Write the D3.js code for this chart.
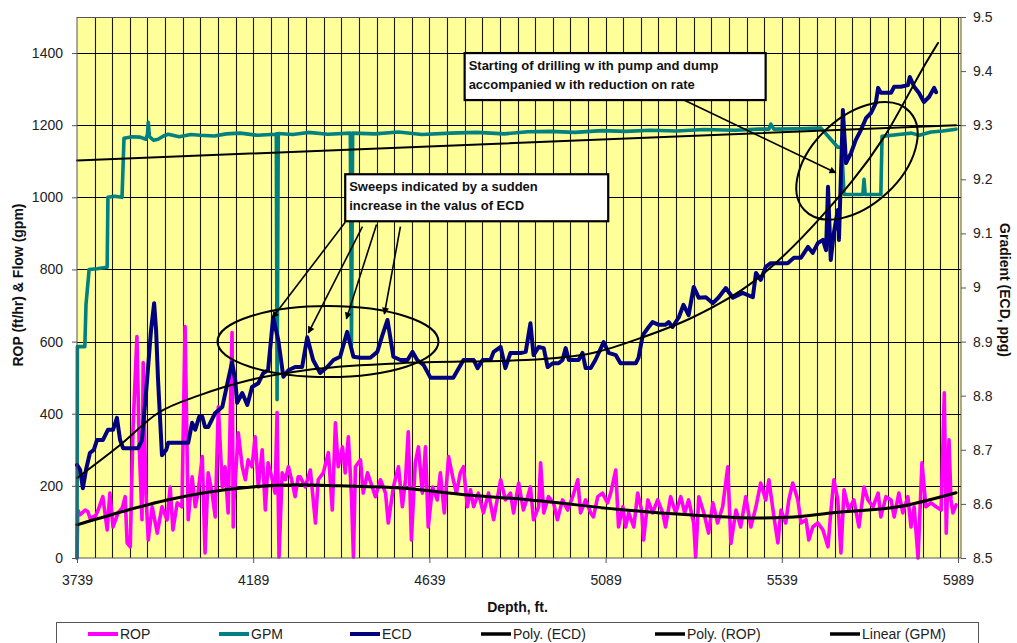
<!DOCTYPE html>
<html>
<head>
<meta charset="utf-8">
<script src="https://cdn.jsdelivr.net/npm/d3@7"></script>
<style>
  html, body { margin: 0; padding: 0; background: #ffffff; }
  svg { display: block; font-family: "Liberation Sans", Arial, sans-serif; }
</style>
</head>
<body>
<svg id="chart" width="1017" height="643"></svg>
<script>
// ---- Data: depth (ft) paired with readings ----
const depthTicks = [3739, 4189, 4639, 5089, 5539, 5989];
const flowTicks = [0, 200, 400, 600, 800, 1000, 1200, 1400];
const ecdTicks = [8.5, 8.6, 8.7, 8.8, 8.9, 9.0, 9.1, 9.2, 9.3, 9.4, 9.5];

// Rate of penetration, ft/hr
const ropSeries = [
  [3739,0],[3741,133],[3747,120],[3752,125],[3760,133],[3767,128],[3773,108],[3780,114],[3787,118],[3793,133],
  [3805,170],[3816,78],[3823,180],[3831,86],[3844,125],[3855,140],[3862,170],[3867,42],[3875,31],[3882,356],
  [3892,614],[3898,308],[3905,106],[3908,542],[3915,180],[3921,50],[3931,142],[3944,69],[3956,142],[3969,106],
  [3977,197],[3984,78],[3995,153],[4007,142],[4015,642],[4023,106],[4033,225],[4041,142],[4048,180],[4059,281],
  [4066,14],[4074,236],[4084,180],[4092,114],[4100,419],[4110,197],[4117,253],[4125,125],[4135,625],[4138,86],
  [4140,161],[4151,347],[4161,253],[4169,217],[4176,272],[4186,253],[4194,336],[4202,197],[4212,300],[4220,133],
  [4227,264],[4238,217],[4245,180],[4250,403],[4255,3],[4263,236],[4271,217],[4279,253],[4289,208],[4296,170],
  [4304,225],[4309,225],[4322,197],[4335,244],[4348,97],[4355,217],[4368,236],[4381,292],[4391,133],[4399,375],
  [4406,253],[4417,308],[4424,236],[4432,336],[4440,170],[4445,3],[4450,253],[4463,272],[4470,180],[4481,236],
  [4493,197],[4501,170],[4514,217],[4527,180],[4534,97],[4547,197],[4560,253],[4570,142],[4578,217],[4585,350],
  [4593,50],[4603,264],[4611,308],[4621,180],[4629,308],[4636,86],[4647,197],[4659,161],[4667,236],[4677,125],
  [4688,281],[4700,217],[4708,180],[4718,236],[4726,253],[4736,142],[4744,189],[4752,142],[4764,180],[4777,125],
  [4790,180],[4803,106],[4821,217],[4833,161],[4846,180],[4854,125],[4867,208],[4879,133],[4890,170],[4897,197],
  [4905,106],[4918,142],[4923,264],[4931,125],[4943,170],[4956,153],[4966,106],[4979,161],[4992,133],[5005,170],
  [5018,217],[5025,125],[5038,161],[5051,125],[5058,114],[5069,170],[5081,180],[5094,153],[5102,180],[5115,244],
  [5122,86],[5133,142],[5140,86],[5148,125],[5161,86],[5171,180],[5181,133],[5186,50],[5197,161],[5209,125],
  [5222,161],[5235,125],[5242,86],[5255,170],[5268,125],[5281,170],[5291,125],[5301,161],[5314,97],[5319,3],
  [5327,170],[5340,125],[5352,69],[5363,153],[5375,97],[5388,142],[5401,253],[5409,40],[5422,133],[5434,86],
  [5447,170],[5460,86],[5473,142],[5485,208],[5498,161],[5506,217],[5519,114],[5529,42],[5537,133],[5549,97],
  [5557,161],[5567,208],[5580,161],[5588,97],[5601,106],[5608,50],[5618,86],[5631,97],[5644,78],[5657,31],
  [5664,125],[5672,217],[5682,161],[5690,14],[5698,189],[5710,133],[5723,161],[5736,86],[5749,197],[5759,161],
  [5772,142],[5785,180],[5792,114],[5805,170],[5818,161],[5826,114],[5838,180],[5848,125],[5861,170],[5869,86],
  [5877,142],[5887,0],[5897,264],[5907,142],[5920,153],[5933,142],[5946,133],[5954,458],[5959,69],[5966,328],
  [5971,161],[5976,125],[5984,147]
];

// Pump flow rate, gpm
const gpmSeries = [
  [3739,0],[3740,586],[3759,586],[3762,703],[3770,800],[3790,802],[3816,806],[3818,1000],[3835,1003],[3854,1000],
  [3859,1164],[3880,1168],[3900,1167],[3915,1161],[3919,1175],[3921,1208],[3924,1168],[3935,1158],[3946,1161],
  [3960,1170],[3972,1175],[4000,1168],[4030,1174],[4053,1172],[4090,1170],[4120,1176],[4156,1178],[4200,1172],
  [4245,1175],[4248,1176],[4250,439],[4253,1177],[4290,1174],[4330,1180],[4380,1175],[4437,1178],[4440,590],
  [4443,1178],[4500,1176],[4560,1181],[4620,1174],[4693,1178],[4760,1180],[4830,1176],[4890,1182],[4948,1183],
  [5010,1180],[5080,1185],[5140,1183],[5204,1186],[5270,1184],[5340,1188],[5420,1186],[5480,1189],[5506,1189],
  [5511,1203],[5519,1189],[5580,1190],[5639,1192],[5664,1161],[5682,1139],[5692,1139],[5698,1008],[5746,1008],
  [5749,1050],[5752,1008],[5792,1008],[5795,1169],[5843,1175],[5870,1178],[5890,1172],[5920,1181],[5950,1184],
  [5984,1189]
];

// Equivalent circulating density, ppg
const ecdSeries = [
  [3739,8.672],[3747,8.663],[3754,8.629],[3762,8.663],[3772,8.694],[3782,8.700],[3790,8.718],[3805,8.718],
  [3818,8.737],[3831,8.737],[3841,8.759],[3849,8.718],[3857,8.703],[3895,8.703],[3905,8.718],[3918,8.829],
  [3928,8.921],[3936,8.971],[3941,8.921],[3946,8.829],[3956,8.690],[3967,8.700],[3972,8.713],[4023,8.713],
  [4033,8.750],[4041,8.737],[4051,8.761],[4059,8.761],[4066,8.742],[4074,8.742],[4092,8.768],[4110,8.779],
  [4125,8.829],[4135,8.862],[4143,8.829],[4148,8.787],[4161,8.805],[4174,8.783],[4186,8.816],[4202,8.823],
  [4215,8.842],[4227,8.847],[4240,8.945],[4253,8.903],[4266,8.835],[4279,8.847],[4296,8.853],[4314,8.853],
  [4327,8.908],[4342,8.866],[4360,8.842],[4378,8.853],[4394,8.866],[4411,8.872],[4429,8.918],[4445,8.872],
  [4463,8.870],[4488,8.870],[4506,8.881],[4519,8.912],[4532,8.940],[4547,8.872],[4565,8.866],[4583,8.866],
  [4596,8.881],[4608,8.866],[4624,8.857],[4642,8.833],[4700,8.833],[4711,8.847],[4726,8.866],[4752,8.866],
  [4762,8.851],[4775,8.866],[4795,8.866],[4803,8.881],[4821,8.890],[4833,8.851],[4846,8.879],[4872,8.879],
  [4885,8.881],[4897,8.934],[4905,8.875],[4918,8.890],[4931,8.888],[4941,8.853],[4954,8.860],[4969,8.860],
  [4979,8.866],[4987,8.888],[4995,8.866],[5020,8.866],[5030,8.879],[5038,8.851],[5051,8.851],[5063,8.866],
  [5084,8.899],[5097,8.879],[5115,8.875],[5127,8.860],[5166,8.860],[5173,8.870],[5184,8.912],[5199,8.927],
  [5209,8.936],[5225,8.931],[5242,8.931],[5250,8.936],[5260,8.927],[5276,8.945],[5288,8.968],[5301,8.949],
  [5314,9.001],[5327,8.981],[5345,8.982],[5363,8.971],[5378,8.982],[5396,8.999],[5414,8.981],[5439,8.990],
  [5465,8.982],[5473,9.027],[5485,9.014],[5498,9.038],[5511,9.045],[5554,9.045],[5570,9.055],[5588,9.055],
  [5606,9.075],[5618,9.064],[5631,9.082],[5644,9.088],[5652,9.069],[5657,9.186],[5664,9.051],[5672,9.101],
  [5682,9.143],[5685,9.088],[5695,9.328],[5703,9.230],[5716,9.249],[5728,9.273],[5741,9.291],[5754,9.313],
  [5767,9.323],[5779,9.341],[5785,9.369],[5792,9.360],[5818,9.360],[5826,9.371],[5843,9.371],[5861,9.374],
  [5866,9.389],[5877,9.371],[5889,9.360],[5902,9.343],[5915,9.352],[5928,9.369],[5933,9.361]
];

// Trend lines
const ecdPolyTrend = [
  [3739,8.648],[3849,8.709],[3946,8.768],[4053,8.801],[4181,8.829],[4322,8.847],[4565,8.860],[4885,8.866],
  [5056,8.879],[5184,8.908],[5312,8.945],[5465,9.010],[5639,9.130],[5800,9.278],[5912,9.421],[5938,9.452]
];
const ropPolyTrend = [
  [3739,92],[3849,127],[3969,161],[4186,197],[4309,203],[4411,200],[4565,194],[4736,175],[4897,161],
  [5140,133],[5311,119],[5473,111],[5557,113],[5664,125],[5836,142],[5984,181]
];
const gpmLinearTrend = [[3739,1102],[5984,1200]];

// Legend entries
const legendItems = [
  { label: "ROP", color: "#ff00ff", width: 4 },
  { label: "GPM", color: "#008080", width: 4 },
  { label: "ECD", color: "#000080", width: 4 },
  { label: "Poly. (ECD)", color: "#000000", width: 3.5 },
  { label: "Poly. (ROP)", color: "#000000", width: 3.5 },
  { label: "Linear (GPM)", color: "#000000", width: 3.5 }
];

// ---- Layout ----
const svg = d3.select("#chart");
const plot = { left: 77, top: 17, right: 961, bottom: 558 };

const x = d3.scaleLinear().domain([3739, 5989]).range([77, 958]);
const yL = d3.scaleLinear().domain([0, 1500]).range([plot.bottom, plot.top]);
const yR = d3.scaleLinear().domain([8.5, 9.5]).range([plot.bottom, plot.top]);

// Plot background
svg.append("rect")
  .attr("x", plot.left).attr("y", plot.top)
  .attr("width", plot.right - plot.left).attr("height", plot.bottom - plot.top)
  .attr("fill", "#ffff99");

// Grid: vertical every 45 ft, horizontal at the flow ticks
const grid = svg.append("g");
grid.selectAll("line.v").data(d3.range(3739 + 45, 5989 + 1, 45)).join("line")
  .attr("x1", d => Math.round(x(d)) + 0.5).attr("x2", d => Math.round(x(d)) + 0.5)
  .attr("y1", plot.top).attr("y2", plot.bottom)
  .attr("stroke", "#1a1a00").attr("stroke-width", 1.1);
grid.selectAll("line.h").data(flowTicks.slice(1)).join("line")
  .attr("x1", plot.left).attr("x2", plot.right)
  .attr("y1", d => Math.round(yL(d)) + 0.5).attr("y2", d => Math.round(yL(d)) + 0.5)
  .attr("stroke", "#000000").attr("stroke-width", 1);
svg.append("line")
  .attr("x1", plot.left).attr("x2", plot.right)
  .attr("y1", plot.top + 0.5).attr("y2", plot.top + 0.5)
  .attr("stroke", "#555").attr("stroke-width", 1);

// Series
const lineL = d3.line().x(d => x(d[0])).y(d => yL(d[1]));
const lineR = d3.line().x(d => x(d[0])).y(d => yR(d[1]));
const smoothL = d3.line().curve(d3.curveMonotoneX).x(d => x(d[0])).y(d => yL(d[1]));
const smoothR = d3.line().curve(d3.curveMonotoneX).x(d => x(d[0])).y(d => yR(d[1]));

const series = svg.append("g").attr("fill", "none")
  .attr("stroke-linejoin", "round").attr("stroke-linecap", "round");
series.append("path").attr("d", lineL(ropSeries))
  .attr("stroke", "#ff00ff").attr("stroke-width", 3.6);
series.append("path").attr("d", lineL(gpmSeries))
  .attr("stroke", "#008080").attr("stroke-width", 3.6);
series.append("path").attr("d", lineR(ecdSeries))
  .attr("stroke", "#000080").attr("stroke-width", 4);
series.append("path").attr("d", smoothR(ecdPolyTrend))
  .attr("stroke", "#000000").attr("stroke-width", 2);
series.append("path").attr("d", smoothL(ropPolyTrend))
  .attr("stroke", "#000000").attr("stroke-width", 3);
series.append("path").attr("d", lineL(gpmLinearTrend))
  .attr("stroke", "#000000").attr("stroke-width", 2);

// Axes
const tickFont = g => g.selectAll("text")
  .attr("font-size", 14).attr("fill", "#222")
  .attr("font-family", "'Liberation Sans', Arial, sans-serif");

const axisL = svg.append("g").attr("transform", `translate(${plot.left},0)`)
  .call(d3.axisLeft(yL).tickValues(flowTicks).tickFormat(d3.format("d"))
    .tickSize(5).tickSizeOuter(0).tickPadding(9))
  .call(tickFont);
axisL.select(".domain").attr("d", `M0,${plot.top}V${plot.bottom}`).attr("stroke", "#555");
axisL.selectAll(".tick line").attr("stroke", "#555");

const axisB = svg.append("g").attr("transform", `translate(0,${plot.bottom})`)
  .call(d3.axisBottom(x).tickValues(depthTicks).tickFormat(d3.format("d"))
    .tickSize(5).tickSizeOuter(0).tickPadding(12))
  .call(tickFont);
axisB.select(".domain").attr("d", `M${plot.left},0H${plot.right}`).attr("stroke", "#555");
axisB.selectAll(".tick line").attr("stroke", "#555");

const axisR = svg.append("g").attr("transform", `translate(${plot.right},0)`)
  .call(d3.axisRight(yR).tickValues(ecdTicks).tickFormat(d => (d === 9 ? "9" : d3.format(".1f")(d)))
    .tickSize(5).tickSizeOuter(0).tickPadding(7))
  .call(tickFont);
axisR.select(".domain").attr("d", `M0,${plot.top}V${plot.bottom}`).attr("stroke", "#555");
axisR.selectAll(".tick line").attr("stroke", "#555");

// Axis titles
svg.append("text").text("Depth, ft.")
  .attr("x", (x(3739) + x(5989)) / 2).attr("y", 612)
  .attr("text-anchor", "middle").attr("font-size", 14).attr("font-weight", "bold").attr("fill", "#111");
svg.append("text").text("ROP (ft/hr) & Flow (gpm)")
  .attr("transform", "translate(23,285) rotate(-90)")
  .attr("text-anchor", "middle").attr("font-size", 14).attr("font-weight", "bold").attr("fill", "#111");
svg.append("text").text("Gradient (ECD, ppg)")
  .attr("transform", "translate(1000,290) rotate(90)")
  .attr("text-anchor", "middle").attr("font-size", 14).attr("font-weight", "bold").attr("fill", "#111");

// ---- Callouts ----
const defs = svg.append("defs");
defs.append("marker").attr("id", "arrowhead")
  .attr("viewBox", "0 0 10 10").attr("refX", 9).attr("refY", 5)
  .attr("markerWidth", 9).attr("markerHeight", 7).attr("markerUnits", "userSpaceOnUse")
  .attr("orient", "auto")
  .append("path").attr("d", "M0,0L10,5L0,10Z").attr("fill", "#000");

const notes = svg.append("g");

// Sweep peaks: ellipse and arrows from the note box to each ECD peak
notes.append("ellipse")
  .attr("cx", x(4380)).attr("cy", yR(8.900)).attr("rx", 110.5).attr("ry", 35.5)
  .attr("fill", "none").attr("stroke", "#000").attr("stroke-width", 2);
const sweepArrows = [
  { from: [4424, 931], to: [4238, 8.944] },
  { from: [4468, 919], to: [4330, 8.916] },
  { from: [4504, 925], to: [4427, 8.942] },
  { from: [4565, 919], to: [4524, 8.951] }
];
notes.selectAll("line.sweep").data(sweepArrows).join("line")
  .attr("x1", d => x(d.from[0])).attr("y1", d => yL(d.from[1]))
  .attr("x2", d => x(d.to[0])).attr("y2", d => yR(d.to[1]))
  .attr("stroke", "#000").attr("stroke-width", 1.6).attr("marker-end", "url(#arrowhead)");

// Pump-and-dump section: tilted ellipse and a single arrow
notes.append("ellipse")
  .attr("transform", `translate(${x(5731)},${yR(9.234)}) rotate(-43)`)
  .attr("rx", 72).attr("ry", 44)
  .attr("fill", "none").attr("stroke", "#000").attr("stroke-width", 2);
notes.append("line")
  .attr("x1", x(5289)).attr("y1", yL(1270))
  .attr("x2", x(5677)).attr("y2", yR(9.212))
  .attr("stroke", "#000").attr("stroke-width", 1.6).attr("marker-end", "url(#arrowhead)");

function noteBox(depth, flow, w, h, lines) {
  const bx = x(depth), by = yL(flow);
  notes.append("rect").attr("x", bx).attr("y", by).attr("width", w).attr("height", h)
    .attr("fill", "#fff").attr("stroke", "#000").attr("stroke-width", 2.2);
  notes.append("g").selectAll("text").data(lines).join("text")
    .attr("x", bx + 4).attr("y", (d, i) => by + 17 + i * 19)
    .attr("font-size", 13).attr("font-weight", "bold").attr("fill", "#111")
    .text(d => d);
}
noteBox(4424, 1064, 263, 47, ["Sweeps indicated by a sudden", "increase in the valus of ECD"]);
noteBox(4729, 1400, 301, 47, ["Starting of drilling w ith pump and dump", "accompanied w ith reduction on rate"]);

// ---- Legend ----
const legend = svg.append("g");
legend.append("rect").attr("x", 56.5).attr("y", 622.5).attr("width", 922).attr("height", 40)
  .attr("fill", "#fff").attr("stroke", "#555").attr("stroke-width", 1);
const legendX = [88, 219, 350, 481, 655, 830];
const li = legend.selectAll("g.item").data(legendItems).join("g")
  .attr("transform", (d, i) => `translate(${legendX[i]},634)`);
li.append("line").attr("x1", 0).attr("x2", 30).attr("y1", 0).attr("y2", 0)
  .attr("stroke", d => d.color).attr("stroke-width", d => d.width);
li.append("text").attr("x", 32).attr("y", 5).attr("font-size", 14).attr("fill", "#222")
  .text(d => d.label);
</script>
</body>
</html>
